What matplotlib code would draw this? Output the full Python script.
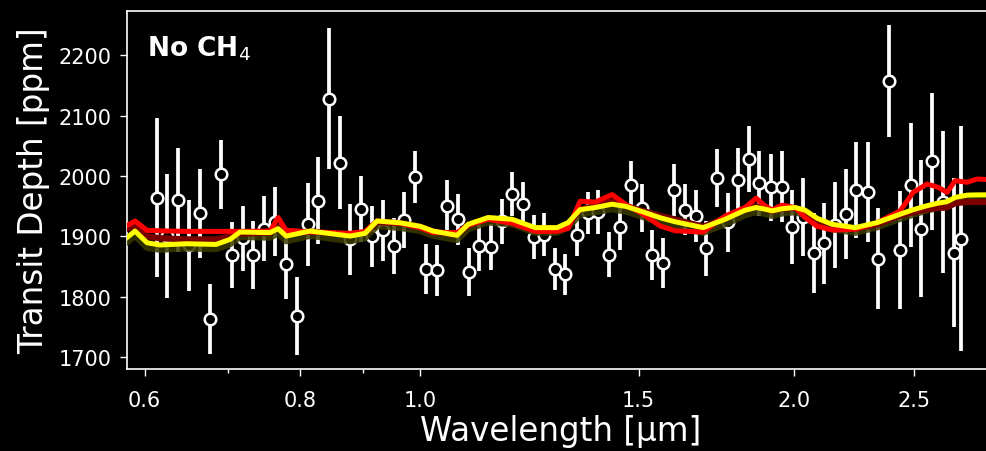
import matplotlib
matplotlib.use("Agg")
import matplotlib.pyplot as plt
from matplotlib.ticker import FixedLocator, FixedFormatter, NullFormatter

# ---- observed spectrum ----
wavelength = [0.6135, 0.6254, 0.6379, 0.6511, 0.6645, 0.6777, 0.6913, 0.7055, 0.7197, 0.7336,
              0.7487, 0.7641, 0.7795, 0.7955, 0.8119, 0.8280, 0.8447, 0.8616, 0.8787, 0.8963,
              0.9143, 0.9337, 0.9524, 0.9713, 0.9902, 1.0112, 1.0315, 1.0519, 1.0737, 1.0952,
              1.1163, 1.1408, 1.1637, 1.1861, 1.2099, 1.2348, 1.2593, 1.2846, 1.3087, 1.3374,
              1.3650, 1.3921, 1.4199, 1.4493, 1.4783, 1.5088, 1.5388, 1.5705, 1.6019, 1.6341,
              1.6678, 1.6991, 1.7341, 1.7699, 1.8049, 1.8421, 1.8767, 1.9178, 1.9563, 1.9951,
              2.0340, 2.0760, 2.1172, 2.1597, 2.2053, 2.2454, 2.2947, 2.3403, 2.3885, 2.4364,
              2.4853, 2.5333, 2.5870, 2.6374, 2.6917, 2.7284]
depth = [1964, 1901, 1960, 1885, 1938, 1763, 2003, 1869, 1897, 1869,
         1913, 1924, 1854, 1768, 1920, 1959, 2128, 2022, 1895, 1945,
         1900, 1910, 1884, 1927, 1998, 1846, 1844, 1950, 1928, 1841,
         1884, 1883, 1925, 1970, 1953, 1899, 1903, 1846, 1837, 1902,
         1939, 1940, 1870, 1916, 1985, 1947, 1869, 1856, 1977, 1944,
         1934, 1880, 1996, 1923, 1994, 2028, 1988, 1981, 1982, 1916,
         1932, 1873, 1889, 1919, 1937, 1977, 1974, 1863, 2157, 1877,
         1985, 1913, 2024, 1957, 1873, 1896]
depth_err = [132, 103, 86, 76, 74, 58, 57, 55, 54, 56,
             54, 57, 58, 64, 69, 72, 117, 77, 59, 55,
             50, 50, 47, 46, 43, 42, 42, 43, 42, 40,
             41, 38, 37, 36, 37, 37, 36, 35, 34, 35,
             35, 36, 37, 38, 39, 39, 41, 41, 43, 42,
             43, 45, 48, 49, 52, 54, 54, 56, 59, 61,
             64, 66, 67, 71, 74, 79, 83, 84, 93, 98,
             102, 114, 113, 118, 123, 186]

# ---- model spectra ----
model_wl = [0.5795, 0.5893, 0.6026, 0.6173, 0.6479, 0.6849, 0.7029, 0.7161, 0.7571, 0.7684,
            0.7799, 0.8154, 0.8782, 0.9030, 0.9233, 0.9636, 1.0000, 1.0244, 1.0710, 1.0932,
            1.1345, 1.1861, 1.2379, 1.2894, 1.3160, 1.3456, 1.3836, 1.4279, 1.4655, 1.5124,
            1.5609, 1.6050, 1.6905, 1.7610, 1.8276, 1.8653, 1.8967, 1.9215, 1.9574, 2.0050,
            2.0429, 2.0888, 2.1476, 2.2413, 2.3348, 2.4364, 2.4960, 2.5615, 2.6143, 2.6583,
            2.6982, 2.7588, 2.8106, 2.8792]
model_red = [1916.7, 1925.5, 1910, 1909.2, 1908.3, 1908.3, 1908.3, 1908.3, 1908.8, 1931.2,
             1910, 1907.5, 1905, 1908.3, 1925.5, 1921.7, 1914.2, 1906.2, 1906.2, 1918.3,
             1928.3, 1921.7, 1908.3, 1908.3, 1913.3, 1958.3, 1956.7, 1969.2, 1952.5, 1936.7,
             1917.2, 1909.2, 1907.2, 1933.8, 1947.8, 1963.3, 1950.5, 1943.8, 1951.7, 1947.8,
             1931.2, 1916.7, 1910.5, 1911.7, 1922.8, 1942.2, 1972.8, 1986.7, 1981.2, 1972.8,
             1992.2, 1989.5, 1995, 1993.8]
model_yellow = [1896.7, 1908.8, 1889.5, 1885.8, 1887.8, 1886.7, 1895, 1907.2, 1906.2, 1912.8,
                1900.5, 1908.8, 1900.5, 1905, 1925.5, 1922.5, 1916.7, 1908.8, 1901.7, 1920,
                1931.2, 1928.3, 1914.5, 1914.5, 1922.8, 1944.2, 1947.8, 1953.3, 1949.5, 1940.5,
                1930.8, 1924.2, 1914.5, 1928.3, 1943.3, 1947.8, 1945, 1942.2, 1945.8, 1947.8,
                1943.3, 1930, 1920, 1914.5, 1922.8, 1936.7, 1944.2, 1950.8, 1955, 1957.5,
                1964.5, 1968.3, 1968.7, 1968.8]
model_darkred = [1912, 1918, 1900, 1897, 1895, 1895, 1900, 1905, 1906, 1915,
                 1904, 1908, 1903, 1906, 1924, 1922, 1916, 1908, 1903, 1919,
                 1930, 1926, 1912, 1912, 1919, 1945, 1950, 1958, 1950, 1942,
                 1934, 1928, 1916, 1930, 1944, 1950, 1946, 1942, 1946, 1947,
                 1940, 1926, 1917, 1913, 1920, 1935, 1940, 1945, 1947, 1948,
                 1955, 1957, 1957, 1957]
model_olive = [1889, 1901, 1881, 1878, 1880, 1879, 1887, 1899, 1898, 1905,
               1892, 1901, 1892, 1897, 1917, 1914, 1909, 1901, 1894, 1912,
               1923, 1920, 1906, 1906, 1915, 1936, 1940, 1945, 1941, 1932,
               1923, 1916, 1906, 1920, 1935, 1940, 1937, 1934, 1938, 1940,
               1935, 1922, 1912, 1906, 1915, 1929, 1936, 1943, 1947, 1949,
               1956, 1960, 1961, 1961]

xticks = [0.6, 0.8, 1.0, 1.5, 2.0, 2.5]
xtick_labels = ["0.6", "0.8", "1.0", "1.5", "2.0", "2.5"]
xminor = [0.7, 0.9]
yticks = [1700, 1800, 1900, 2000, 2100, 2200]

fig = plt.figure(figsize=(9.87, 4.52), dpi=100, facecolor="black")
ax = fig.add_axes([0.1284, 0.1814, 0.8787, 0.7927])
ax.set_facecolor("black")

ax.errorbar(wavelength, depth, yerr=depth_err, fmt="o", color="white", ecolor="white",
            elinewidth=2.7, capsize=0, ms=8.3, mfc="black", mec="white", mew=1.8, zorder=2)

ax.plot(model_wl, model_olive, color="#3a3a00", lw=4.5, alpha=0.85, zorder=3,
        solid_joinstyle="round", solid_capstyle="round")
ax.plot(model_wl, model_darkred, color="#7a0000", lw=4.5, zorder=3.5,
        solid_joinstyle="round", solid_capstyle="round")
ax.plot(model_wl, model_red, color="#ff0000", lw=3.6, zorder=4,
        solid_joinstyle="round", solid_capstyle="round")
ax.plot(model_wl, model_yellow, color="#ffff00", lw=3.6, zorder=5,
        solid_joinstyle="round", solid_capstyle="round")

ax.set_xscale("log")
ax.set_xlim(0.5803, 2.9)
ax.set_ylim(1680.5, 2273.5)
ax.xaxis.set_major_locator(FixedLocator(xticks))
ax.xaxis.set_major_formatter(FixedFormatter(xtick_labels))
ax.xaxis.set_minor_locator(FixedLocator(xminor))
ax.xaxis.set_minor_formatter(NullFormatter())
ax.set_yticks(yticks)

for s in ax.spines.values():
    s.set_color("white")
    s.set_linewidth(1.2)
ax.tick_params(axis="both", which="major", colors="white", labelsize=15,
               length=5, width=1)
ax.tick_params(axis="x", which="major", pad=10)
ax.tick_params(axis="y", which="major", pad=6)
ax.tick_params(axis="x", which="minor", colors="white", length=3, width=1)

ax.set_xlabel("Wavelength [µm]", color="white", fontsize=23.5, labelpad=3)
ax.set_ylabel("Transit Depth [ppm]", color="white", fontsize=23.5, labelpad=6)

ax.text(0.0234, 0.937, r"No CH$_4$", transform=ax.transAxes, color="white",
        fontsize=19, fontweight="bold", va="top", ha="left")

fig.savefig("out.png", dpi=100, facecolor="black")
